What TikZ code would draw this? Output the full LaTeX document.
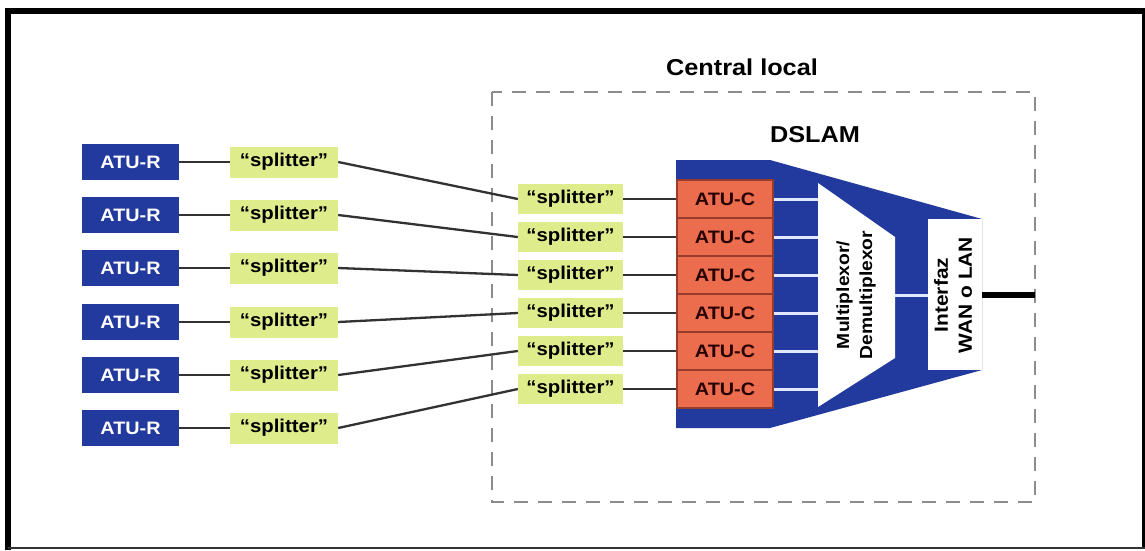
\documentclass[tikz,border=0pt]{standalone}
\usepackage{fontspec}
\setmainfont{Liberation Sans}[FakeStretch=1.1]
\usetikzlibrary{positioning}
\definecolor{dblue}{RGB}{34,58,158}
\definecolor{salmon}{RGB}{236,108,78}
\definecolor{salmondk}{RGB}{150,60,45}
\definecolor{lgreen}{RGB}{222,236,140}
\definecolor{wire}{RGB}{50,50,50}
\definecolor{dashgray}{RGB}{140,140,140}
\definecolor{linkw}{RGB}{225,232,255}
\tikzset{
  x=1pt,y=-1pt,
  every node/.style={font=\bfseries},
  atur/.style={fill=dblue,text=white,minimum width=97pt,minimum height=36pt,inner sep=0pt,font=\bfseries\fontsize{18}{20}\selectfont},
  splitl/.style={fill=lgreen,text=black,minimum width=108pt,minimum height=31pt,inner sep=0pt,font=\bfseries\fontsize{18.5}{20}\selectfont},
  splitr/.style={fill=lgreen,text=black,minimum width=105pt,minimum height=30pt,inner sep=0pt,font=\bfseries\fontsize{18.5}{20}\selectfont},
  atuc/.style={fill=salmon,draw=salmondk,line width=1.2pt,text=black!85!red,minimum width=96pt,minimum height=38pt,inner sep=0pt,font=\bfseries\fontsize{18}{20}\selectfont},
  wireline/.style={draw=wire,line width=2.3pt},
  innerlink/.style={draw=linkw,line width=3pt},
  title/.style={font=\bfseries\fontsize{23}{26}\selectfont,inner sep=0pt}
}
\begin{document}
\begin{tikzpicture}
\useasboundingbox (0,0) rectangle (1145,550);
\fill[white] (0,0) rectangle (1145,550);
% outer frame
\draw[black,line width=6pt] (8,550) -- (8,11) -- (1145,11);
\draw[black,line width=3pt] (1143,11) -- (1143,548);
\draw[black!80,line width=2pt] (8,548) -- (1145,548);
% central local box
\draw[dashgray,line width=2pt,dash pattern=on 14pt off 10pt] (492,92) rectangle (1035,502);
\node[title,anchor=base] (central) at (742,75) {Central local};
\node[title,anchor=base] (dslam) at (815,142) {DSLAM};
% DSLAM body
\fill[dblue] (676,160) -- (770,160) -- (982,219) -- (982,370) -- (770,428) -- (676,428) -- cycle;
% mux trapezoid
\fill[white] (818,183) -- (895,237) -- (895,358) -- (818,407) -- cycle;
\node[rotate=90,align=center,font=\bfseries\fontsize{17.5}{23}\selectfont,inner sep=0pt] (mux) at (856,295) {Multiplexor/\\Demultiplexor};
% interface
\node[fill=white,minimum width=54pt,minimum height=151pt,inner sep=0pt] (ifbox) at (955,294.5) {};
\node[rotate=90,align=center,font=\bfseries\fontsize{19}{24}\selectfont,inner sep=0pt] (iftext) at (953,295) {Interfaz\\WAN o LAN};
\coordinate (muxout) at (895,295);
\draw[innerlink] (muxout) -- (ifbox.west |- muxout);
\coordinate (wan) at (1035,295);
\draw[black,line width=6pt] (ifbox.east |- wan) -- (wan);
% rows
\foreach \i/\yl/\yr in {1/162/199,2/215/237,3/268/275,4/322/313,5/375/351,6/428/389}{
  \node[atur] (r\i) at (130.5,\yl) {ATU-R};
  \node[splitl] (sl\i) at (284,\yl) {``splitter''};
  \node[splitr] (sr\i) at (570.5,\yr) {``splitter''};
  \node[atuc] (c\i) at (725,\yr) {ATU-C};
  \coordinate (m\i) at (818,\yr);
  \draw[wireline] (r\i.east) -- (sl\i.west);
  \draw[wireline] (sl\i.east) -- (sr\i.west);
  \draw[wireline] (sr\i.east) -- (c\i.west);
  \draw[innerlink] (c\i.east) -- (m\i);
}
\end{tikzpicture}
\end{document}
